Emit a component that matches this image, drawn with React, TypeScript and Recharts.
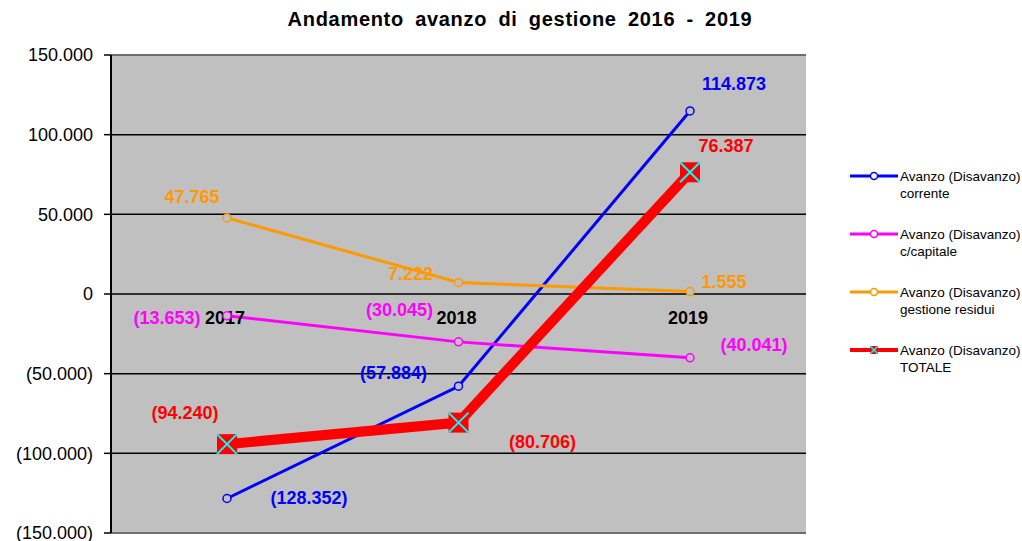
import React from "react";
import {
    LineChart,
    Line,
    XAxis,
    YAxis,
    CartesianGrid,
    ReferenceLine,
    ReferenceDot,
    Legend,
    LabelList,
} from "recharts";

const years = ["2017", "2018", "2019"];
const corrente = [-128352, -57884, 114873];
const capitale = [-13653, -30045, -40041];
const residui = [47765, 7222, 1555];
const totale = [-94240, -80706, 76387];
const yTicks = [-150000, -100000, -50000, 0, 50000, 100000, 150000];

const data = years.map((year, i) => ({
    year,
    corrente: corrente[i],
    capitale: capitale[i],
    residui: residui[i],
    totale: totale[i],
}));

const FONT = '"Liberation Sans", Arial, sans-serif';
const BG = '#c0c0c0';

const SERIES = [
    { key: 'corrente', line2: 'corrente', color: '#0000ff', width: 3 },
    { key: 'capitale', line2: 'c/capitale', color: '#ff00ff', width: 3 },
    { key: 'residui', line2: 'gestione residui', color: '#ff9900', width: 3 },
    { key: 'totale', line2: 'TOTALE', color: '#ff0000', width: 10 },
];

// label offsets [dx, dy] from each point, per series
const LABEL_OFFSETS: Record<string, number[][]> = {
    corrente: [[82, -1], [-65, -13], [44, -27]],
    capitale: [[-60, 2], [-59, -32], [64, -13]],
    residui: [[-35, -21], [-48, -8], [34, -10]],
    totale: [[-42, -31], [84, 19], [36, -26]],
};

const fmt = (v: number) => {
    const s = String(Math.abs(v)).replace(/\B(?=(\d{3})+(?!\d))/g, '.');
    return v < 0 ? `(${s})` : s;
};

const TotaleDot = (props: any) => {
    const { cx, cy, index } = props;
    if (cx == null || cy == null) return null;
    return (
        <g key={`td-${index}`}>
            <rect x={cx - 10} y={cy - 10} width={20} height={20} fill="#ff0000" />
            <line x1={cx - 10} y1={cy - 10} x2={cx + 10} y2={cy + 10} stroke="#00ffff" strokeWidth={2} />
            <line x1={cx - 10} y1={cy + 10} x2={cx + 10} y2={cy - 10} stroke="#00ffff" strokeWidth={2} />
        </g>
    );
};

const makeLabel = (key: string, color: string) => (props: any) => {
    const { x, y, value, index } = props;
    const [dx, dy] = LABEL_OFFSETS[key][index];
    return (
        <text
            x={x + dx}
            y={y + dy}
            fill={color}
            fontSize={18}
            fontWeight="bold"
            fontFamily={FONT}
            textAnchor="middle"
            dominantBaseline="central"
        >
            {fmt(value)}
        </text>
    );
};

const YearLabel = (props: any) => {
    const { cx, cy, year } = props;
    return (
        <text
            x={cx - 2}
            y={cy + 24}
            fill="#000"
            fontSize={18}
            fontWeight="bold"
            fontFamily={FONT}
            textAnchor="middle"
            dominantBaseline="central"
        >
            {year}
        </text>
    );
};

const LegendContent = () => (
    <div style={{ fontFamily: FONT, fontSize: 13.5, color: '#000' }}>
        {SERIES.map((s) => (
            <div key={s.key} style={{ display: 'flex', alignItems: 'flex-start', height: 58 }}>
                <svg width={52} height={20} style={{ flex: 'none', marginTop: 0 }}>
                    <line x1={3} y1={10} x2={51} y2={10} stroke={s.color} strokeWidth={s.key === 'totale' ? 4 : 3} />
                    {s.key === 'totale' ? (
                        <g>
                            <rect x={23} y={6} width={8} height={8} fill="#ff0000" />
                            <line x1={23} y1={6} x2={31} y2={14} stroke="#00ffff" strokeWidth={1.5} />
                            <line x1={23} y1={14} x2={31} y2={6} stroke="#00ffff" strokeWidth={1.5} />
                        </g>
                    ) : (
                        <circle cx={27} cy={10} r={3.5} fill="#fff" stroke={s.color} strokeWidth={1.5} />
                    )}
                </svg>
                <div style={{ lineHeight: '17px', marginLeft: 1, marginTop: 2 }}>
                    <div>Avanzo (Disavanzo)</div>
                    <div>{s.line2}</div>
                </div>
            </div>
        ))}
    </div>
);

export default function App() {
    return (
        <div style={{ position: 'absolute', left: 0, top: 0, width: 1022, height: 541, background: '#fff' }}>
            <div
                style={{
                    position: 'absolute',
                    left: 0,
                    top: 8,
                    width: 1040,
                    textAlign: 'center',
                    fontFamily: FONT,
                    fontWeight: 'bold',
                    fontSize: 20,
                    wordSpacing: 5,
                    letterSpacing: 0.7,
                    color: '#000',
                }}
            >
                Andamento avanzo di gestione 2016 - 2019
            </div>
            <LineChart
                width={1022}
                height={541}
                data={data}
                margin={{ top: 55, right: 216, bottom: 8, left: 11 }}
                style={{ fontFamily: FONT }}
            >
                <CartesianGrid vertical={false} stroke="#000" strokeWidth={1.5} fill={BG} fillOpacity={1} />
                <XAxis dataKey="year" hide padding={{ left: 116, right: 116 }} />
                <YAxis
                    width={100}
                    domain={[-150000, 150000]}
                    ticks={yTicks}
                    tickFormatter={fmt}
                    tick={{ fill: '#000', fontSize: 18, fontFamily: FONT }}
                    tickSize={7}
                    tickMargin={11}
                    tickLine={{ stroke: '#000', strokeWidth: 1.5 }}
                    axisLine={{ stroke: '#000', strokeWidth: 2 }}
                    interval={0}
                />
                <YAxis
                    yAxisId="right"
                    orientation="right"
                    width={0}
                    domain={[-150000, 150000]}
                    tick={false}
                    tickLine={false}
                    axisLine={{ stroke: '#808080', strokeWidth: 1.5 }}
                />
                <ReferenceLine y={150000} stroke="#808080" strokeWidth={1.5} />
                <ReferenceLine y={-150000} stroke="#808080" strokeWidth={1.5} />
                {years.map((y) => (
                    <ReferenceDot
                        key={y}
                        x={y}
                        y={0}
                        shape={(p: any) => <YearLabel {...p} year={y} />}
                    />
                ))}
                {SERIES.map((s) => (
                    <Line
                        key={s.key}
                        type="linear"
                        dataKey={s.key}
                        stroke={s.color}
                        strokeWidth={s.width}
                        dot={s.key === 'totale' ? TotaleDot : { r: 4, fill: BG, stroke: s.color, strokeWidth: 1.5 }}
                        activeDot={false}
                        isAnimationActive={false}
                    >
                        <LabelList dataKey={s.key} content={makeLabel(s.key, s.color)} />
                    </Line>
                ))}
                <Legend
                    layout="horizontal"
                    align="center"
                    verticalAlign="middle"
                    content={<LegendContent />}
                    wrapperStyle={{ position: 'absolute', left: 847, top: 166, width: 180, height: 240 }}
                />
            </LineChart>
        </div>
    );
}
